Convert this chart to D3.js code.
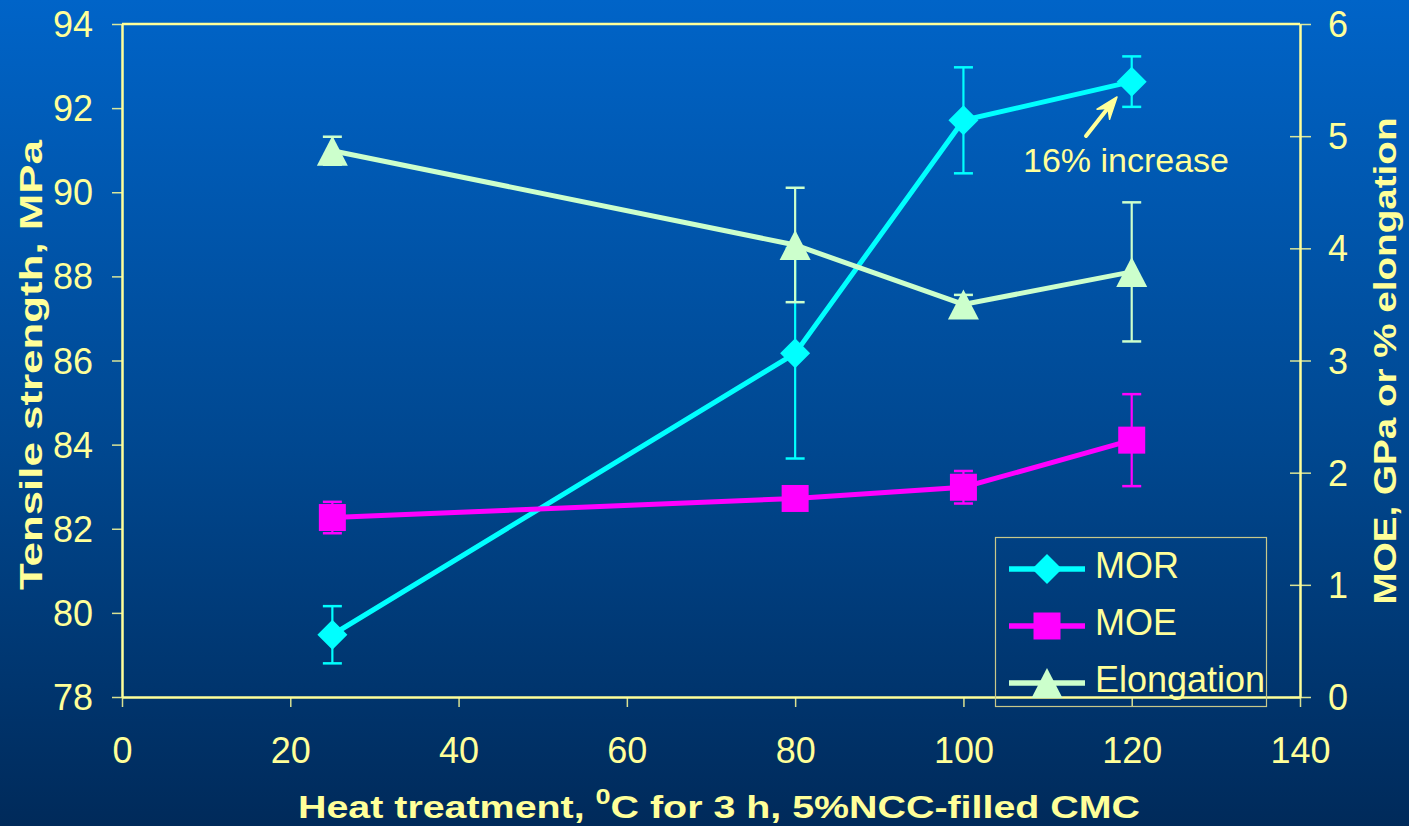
<!DOCTYPE html>
<html>
<head>
<meta charset="utf-8">
<script src="https://cdn.jsdelivr.net/npm/d3@7"></script>
<style>
  html, body { margin: 0; padding: 0; overflow: hidden; }
  svg { display: block; }
  text { font-family: "Liberation Sans", Arial, sans-serif; }
</style>
</head>
<body>
<svg id="chart" width="1409" height="826"></svg>
<script>
// Heat treatment temperatures (°C)
const temps = [25, 80, 100, 120];
// Modulus of rupture / tensile strength, MPa (left axis)
const mor = [79.48, 86.17, 91.71, 92.63];
const morErr = [0.68, 2.5, 1.26, 0.6];
// Modulus of elasticity, GPa (right axis)
const moe = [1.60, 1.77, 1.87, 2.29];
const moeErr = [0.14, 0.05, 0.145, 0.41];
// Elongation, % (right axis)
const elong = [4.87, 4.03, 3.50, 3.79];
const elongErr = [0.125, 0.51, 0.085, 0.62];

const xTicks = [0, 20, 40, 60, 80, 100, 120, 140];
const yLeftTicks = [78, 80, 82, 84, 86, 88, 90, 92, 94];
const yRightTicks = [0, 1, 2, 3, 4, 5, 6];
const seriesNames = ["MOR", "MOE", "Elongation"];

const W = 1409, H = 826;
const M = { left: 122, right: 1300, top: 24, bottom: 697 };
const txt = "#FFFF99";

const svg = d3.select("#chart");

// background gradient
const defs = svg.append("defs");
const grad = defs.append("linearGradient").attr("id", "bg")
  .attr("x1", 0).attr("y1", 0).attr("x2", 0).attr("y2", 1);
grad.append("stop").attr("offset", "0%").attr("stop-color", "#0064C8");
grad.append("stop").attr("offset", "55%").attr("stop-color", "#00478F");
grad.append("stop").attr("offset", "100%").attr("stop-color", "#002A5A");
svg.append("rect").attr("width", W).attr("height", H).attr("fill", "url(#bg)");

const x = d3.scaleLinear().domain([0, 140]).range([M.left, M.right]);
const yL = d3.scaleLinear().domain([78, 94]).range([M.bottom, M.top]);
const yR = d3.scaleLinear().domain([0, 6]).range([M.bottom, M.top]);

// frame: top border line
svg.append("line")
  .attr("x1", M.left).attr("x2", M.right).attr("y1", M.top).attr("y2", M.top)
  .attr("stroke", txt).attr("stroke-width", 2.5);

// axes
function styleAxis(g) {
  g.select(".domain").attr("stroke", txt).attr("stroke-width", 2.5);
  g.selectAll(".tick line").attr("stroke", txt).attr("stroke-width", 1.5).attr("opacity", 0.85);
  g.selectAll(".tick text").attr("fill", txt).attr("font-size", 36)
    .attr("font-family", "Liberation Sans, Arial, sans-serif");
}

const gx = svg.append("g").attr("transform", `translate(0,${M.bottom})`)
  .call(d3.axisBottom(x).tickValues(xTicks).tickSize(10).tickSizeOuter(0).tickFormat(d3.format("d")))
  .call(styleAxis);
gx.selectAll(".tick text").attr("dy", 0).attr("y", 66);

const gl = svg.append("g").attr("transform", `translate(${M.left},0)`)
  .call(d3.axisLeft(yL).tickValues(yLeftTicks).tickSize(10).tickSizeOuter(0)
    .tickPadding(19).tickFormat(d3.format("d")))
  .call(styleAxis);
gl.selectAll(".tick text").attr("dy", "0.35em");

const gr = svg.append("g").attr("transform", `translate(${M.right},0)`)
  .call(d3.axisRight(yR).tickValues(yRightTicks).tickSize(11).tickSizeOuter(0)
    .tickPadding(17).tickFormat(d3.format("d")))
  .call(styleAxis);
gr.selectAll(".tick text").attr("dy", "0.35em");
// right ticks cross the axis
gr.selectAll(".tick line").attr("x1", -10);
gr.selectAll(".tick").filter(d => d === 6).select("line").attr("x1", 0);

// axis titles
const xTitle = svg.append("text")
  .attr("x", 719).attr("y", 818).attr("text-anchor", "middle")
  .attr("fill", txt).attr("font-weight", "bold").attr("font-size", 32)
  .attr("textLength", 842).attr("lengthAdjust", "spacingAndGlyphs");
xTitle.append("tspan").text("Heat treatment, ");
xTitle.append("tspan").attr("font-size", 22).attr("dy", -14).text("0");
xTitle.append("tspan").attr("dy", 14).text("C for 3 h, 5%NCC-filled CMC");

svg.append("text")
  .attr("transform", "translate(42,365) rotate(-90)")
  .attr("text-anchor", "middle").attr("fill", txt)
  .attr("font-weight", "bold").attr("font-size", 31)
  .attr("textLength", 450).attr("lengthAdjust", "spacingAndGlyphs")
  .text("Tensile strength, MPa");

svg.append("text")
  .attr("transform", "translate(1396,361) rotate(-90)")
  .attr("text-anchor", "middle").attr("fill", txt)
  .attr("font-weight", "bold").attr("font-size", 31)
  .attr("textLength", 487).attr("lengthAdjust", "spacingAndGlyphs")
  .text("MOE, GPa or % elongation");

// marker shapes
const markers = {
  diamond: "M0,-15L15,0L0,15L-15,0Z",
  square: "M-13.5,-13.5H13.5V13.5H-13.5Z",
  triangle: "M0,-15L15.5,15H-15.5Z"
};

const series = [
  { name: seriesNames[0], vals: mor, err: morErr, y: yL, color: "#00FFFF", marker: markers.diamond },
  { name: seriesNames[1], vals: moe, err: moeErr, y: yR, color: "#FF00FF", marker: markers.square },
  { name: seriesNames[2], vals: elong, err: elongErr, y: yR, color: "#CCFFCC", marker: markers.triangle }
];

const plot = svg.append("g");
series.forEach(s => {
  const g = plot.append("g");
  const pts = temps.map((t, i) => ({ t, v: s.vals[i], e: s.err[i] }));
  // error bars
  const eb = g.selectAll("g.err").data(pts).join("g").attr("class", "err");
  eb.append("line")
    .attr("x1", d => x(d.t)).attr("x2", d => x(d.t))
    .attr("y1", d => s.y(d.v + d.e)).attr("y2", d => s.y(d.v - d.e))
    .attr("stroke", s.color).attr("stroke-width", 2.2);
  [1, -1].forEach(sign => {
    eb.append("line")
      .attr("x1", d => x(d.t) - 9.5).attr("x2", d => x(d.t) + 9.5)
      .attr("y1", d => s.y(d.v + sign * d.e)).attr("y2", d => s.y(d.v + sign * d.e))
      .attr("stroke", s.color).attr("stroke-width", 2.5);
  });
  // line
  g.append("path").datum(pts)
    .attr("d", d3.line().x(d => x(d.t)).y(d => s.y(d.v)))
    .attr("fill", "none").attr("stroke", s.color).attr("stroke-width", 5);
  // markers
  g.selectAll("path.mk").data(pts).join("path").attr("class", "mk")
    .attr("d", s.marker)
    .attr("transform", d => `translate(${x(d.t)},${s.y(d.v)})`)
    .attr("fill", s.color);
});

// annotation
const ann = svg.append("g");
ann.append("line")
  .attr("x1", 1086).attr("y1", 136).attr("x2", 1108).attr("y2", 108)
  .attr("stroke", txt).attr("stroke-width", 4).attr("stroke-linecap", "round");
{
  const tip = [1117, 97], ang = Math.atan2(97 - 136, 1117 - 1086);
  const L = 22, Wd = 8;
  const bx = tip[0] - L * Math.cos(ang), by = tip[1] - L * Math.sin(ang);
  const nx = -Math.sin(ang), ny = Math.cos(ang);
  const back = 0.65;
  const mx = tip[0] - L * back * Math.cos(ang), my = tip[1] - L * back * Math.sin(ang);
  ann.append("path")
    .attr("d", `M${tip[0]},${tip[1]}L${bx + nx * Wd},${by + ny * Wd}L${mx},${my}L${bx - nx * Wd},${by - ny * Wd}Z`)
    .attr("fill", txt).attr("stroke", txt).attr("stroke-width", 1.5).attr("stroke-linejoin", "round");
}
ann.append("text").attr("x", 1023).attr("y", 172)
  .attr("fill", txt).attr("font-size", 34).text("16% increase");

// legend
const lg = svg.append("g");
lg.append("rect").attr("x", 995.5).attr("y", 537.5).attr("width", 271).attr("height", 169)
  .attr("fill", "none").attr("stroke", "#C8C88A").attr("stroke-width", 1.2);
const ly = [569, 626, 683];
series.forEach((s, i) => {
  lg.append("line").attr("x1", 1009).attr("x2", 1085).attr("y1", ly[i]).attr("y2", ly[i])
    .attr("stroke", s.color).attr("stroke-width", 5.5);
  lg.append("path").attr("d", s.marker)
    .attr("transform", `translate(1047,${ly[i]})`).attr("fill", s.color);
  lg.append("text").attr("x", 1095).attr("y", ly[i] + 9)
    .attr("fill", txt).attr("font-size", 36).text(s.name);
});
</script>
</body>
</html>
